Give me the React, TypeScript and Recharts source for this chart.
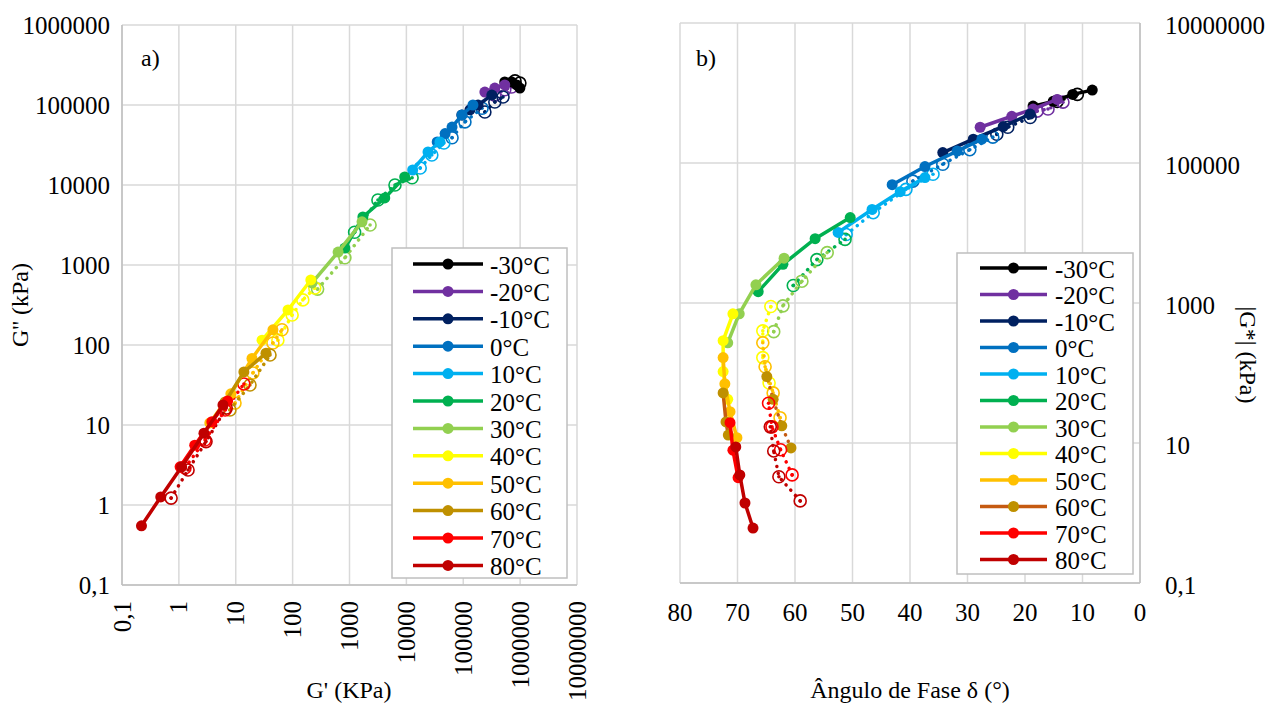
import React from 'react';
import { ScatterChart, Scatter, XAxis, YAxis, CartesianGrid } from 'recharts';

const temps = ['-30°C', '-20°C', '-10°C', '0°C', '10°C', '20°C', '30°C', '40°C', '50°C', '60°C', '70°C', '80°C'];
const colors = ['#000000', '#7030A0', '#002060', '#0070C0', '#00B0F0', '#00B050', '#92D050', '#FFFF00', '#FFC000', '#BF9000', '#FF0000', '#C00000'];
const bLineColors = ['#000000', '#7030A0', '#002060', '#0070C0', '#00B0F0', '#00B050', '#92D050', '#FFFF00', '#FFC000', '#C55A11', '#FF0000', '#C00000'];

const aTicksX = [0.1, 1, 10, 100, 1000, 10000, 100000, 1000000, 10000000];
const aTicksY = [0.1, 1, 10, 100, 1000, 10000, 100000, 1000000];
const bTicksX = [0, 10, 20, 30, 40, 50, 60, 70, 80];
const bTicksY = [0.1, 10, 1000, 100000, 10000000];

// panel a: [G', G''] per temperature, solid = filled markers, dotted = open markers
const aSolid: number[][][] = [
  [[537000, 194000], [710000, 194000], [870000, 178000], [990000, 163000]],
  [[240000, 145000], [359000, 163000], [537000, 178000]],
  [[94400, 75000], [131000, 87000], [182000, 100000], [318000, 133000]],
  [[34800, 34500], [48000, 44000], [63500, 53000], [95000, 75000], [148000, 100000]],
  [[12900, 15400], [24000, 25900], [38900, 34500]],
  [[830, 1630], [1720, 3980], [4170, 6900], [9350, 12600]],
  [[219, 596], [630, 1450], [1660, 3460]],
  [[29, 115], [83, 274], [209, 650]],
  [[3.5, 10.6], [8.2, 24.5], [19.3, 68], [45, 155]],
  [[6.5, 19.4], [13.9, 46], [34, 79]],
  [[1.05, 3.0], [1.9, 5.6], [3.8, 11], [7.2, 20]],
  [[0.22, 0.55], [0.48, 1.26], [1.12, 3.0], [2.76, 7.9], [5.96, 17.8]],
];
const aDotted: number[][][] = [
  [[813000, 200000], [990000, 188000]],
  [[359000, 133000], [537000, 155000], [710000, 168000]],
  [[240000, 81800], [359000, 109000], [500000, 126000]],
  [[63500, 39000], [107000, 61500], [214000, 91000]],
  [[17500, 16300], [28000, 23700], [45700, 33500]],
  [[1230, 2570], [3160, 6500], [6300, 10000], [12600, 12300]],
  [[275, 500], [830, 1230], [2300, 3160]],
  [[55, 115], [98, 237], [151, 366], [245, 516]],
  [[9.7, 18.8], [20, 44.7], [45, 106], [65, 155]],
  [[7.9, 15.4], [17.8, 31.6], [40, 75]],
  [[1.28, 2.9], [2.88, 6.5], [6.5, 15.4], [13.9, 32.6]],
  [[0.73, 1.22], [1.45, 2.74], [3.0, 6.2], [6.8, 16.3]],
];

// panel b: [phase angle, |G*|]
const bSolid: number[][][] = [
  [[18.6, 650000], [15.1, 760000], [11.7, 955000], [8.3, 1100000]],
  [[27.8, 324000], [22.3, 465000], [18.6, 590000], [14.4, 810000]],
  [[34.3, 141000], [29.0, 219000], [23.8, 331000], [19.1, 500000]],
  [[43.1, 49000], [37.4, 89000], [31.8, 148000], [27.5, 219000]],
  [[52.5, 10200], [46.6, 21700], [41.7, 39000], [37.4, 62000]],
  [[66.4, 1450], [62.1, 3570], [56.5, 8300], [50.4, 16600]],
  [[71.7, 270], [69.7, 700], [66.8, 1820], [61.9, 4370]],
  [[71.7, 42], [72.5, 105], [72.5, 290], [70.8, 700]],
  [[70.1, 11.9], [71.3, 28], [72.2, 70], [72.5, 166]],
  [[71.6, 13], [72.0, 20], [72.5, 52]],
  [[69.9, 3.2], [70.8, 7.9], [71.3, 19.5]],
  [[67.3, 0.61], [68.7, 1.39], [69.6, 3.5], [70.3, 8.8]],
];
const bDotted: number[][][] = [
  [[14.4, 760000], [10.9, 955000]],
  [[17.9, 550000], [16.0, 590000], [13.4, 740000]],
  [[24.9, 257000], [23.0, 324000], [19.1, 447000]],
  [[39.5, 55000], [34.3, 96000], [29.6, 155000], [25.6, 234000]],
  [[51.1, 9500], [46.4, 19500], [40.7, 42000], [36.0, 69000]],
  [[60.3, 1780], [56.2, 4170], [51.3, 8100]],
  [[63.7, 390], [62.1, 910], [58.8, 2050], [54.4, 5250]],
  [[64.5, 72], [65.6, 166], [65.6, 400], [64.2, 890]],
  [[62.6, 23], [63.8, 52], [65.2, 123], [65.6, 270]],
  [[60.7, 8.5], [62.3, 17.6], [63.8, 42], [64.9, 89]],
  [[60.5, 3.5], [62.5, 8], [64.0, 17], [64.6, 37]],
  [[59.1, 1.49], [62.8, 3.3], [63.7, 7.7], [64.3, 17]],
];

const FONT = "'Times New Roman', Times, 'Liberation Serif', 'DejaVu Serif', serif";
const GRID = '#d9d9d9';
const AXIS = '#bfbfbf';
const txt = { fontFamily: FONT };

const fmt = (v: number) => (v < 1 ? '0,1' : String(v));
const toPts = (arr: number[][]) => arr.map(([x, y]) => ({ x, y }));

const filled = (color: string) => (p: any) => <circle cx={p.cx} cy={p.cy} r={5.5} fill={color} />;
const open = (color: string) => (p: any) => (
  <g>
    <circle cx={p.cx} cy={p.cy} r={6} fill="none" stroke={color} strokeWidth={1.6} />
    <circle cx={p.cx} cy={p.cy} r={1.8} fill={color} />
  </g>
);

const TickAX = ({ x, y, payload }: any) => (
  <text x={x} y={y + 16} transform={`rotate(-90 ${x} ${y + 16})`} textAnchor="end" dominantBaseline="central"
    fontSize={25} fontFamily={FONT} style={txt} fill="#000">{fmt(payload.value)}</text>
);
const TickAY = ({ x, y, payload }: any) => (
  <text x={x - 12} y={y} textAnchor="end" dominantBaseline="central" fontSize={25} fontFamily={FONT} style={txt} fill="#000">
    {fmt(payload.value)}
  </text>
);
const TickBX = ({ x, y, payload }: any) => (
  <text x={x} y={y + 29} textAnchor="middle" dominantBaseline="central" fontSize={25} fontFamily={FONT} style={txt} fill="#000">
    {payload.value}
  </text>
);
const TickBY = ({ x, y, payload }: any) => (
  <text x={x + 25} y={y + 2} textAnchor="start" dominantBaseline="central" fontSize={25} fontFamily={FONT} style={txt} fill="#000">
    {fmt(payload.value)}
  </text>
);

const Legend = ({ x0, y0, w, h, top, step, lx1, lx2, tx, lineColors }: any) => (
  <g>
    <rect x={x0} y={y0} width={w} height={h} fill="#fff" stroke={AXIS} strokeWidth={1.5} />
    {temps.map((t, i) => {
      const y = top + i * step;
      return (
        <g key={t}>
          <line x1={lx1} x2={lx2} y1={y} y2={y} stroke={lineColors[i]} strokeWidth={3.5} />
          <circle cx={(lx1 + lx2) / 2} cy={y} r={5.5} fill={colors[i]} />
          <text x={tx} y={y + 1} dominantBaseline="central" fontSize={25} fontFamily={FONT} style={txt} fill="#000">{t}</text>
        </g>
      );
    })}
  </g>
);

export default function App() {
  return (
    <div style={{ position: 'absolute', left: 0, top: 0, width: 1271, height: 706, overflow: 'hidden', background: '#fff', fontFamily: FONT }}>
      <div style={{ position: 'absolute', left: 0, top: 0 }}>
        <ScatterChart width={640} height={706} margin={{ top: 25, right: 63, bottom: 0, left: 0 }}>
          <CartesianGrid stroke={GRID} strokeWidth={1.5} />
          <XAxis type="number" dataKey="x" scale="log" domain={[0.1, 10000000]} ticks={aTicksX} allowDataOverflow
            interval={0} height={121} tickSize={0} tickMargin={0} tick={<TickAX />} stroke={AXIS} strokeWidth={1.5} />
          <YAxis type="number" dataKey="y" scale="log" domain={[0.1, 1000000]} ticks={aTicksY} allowDataOverflow
            interval={0} width={122} tickSize={0} tickMargin={0} tick={<TickAY />} stroke={AXIS} strokeWidth={1.5} />
          {aDotted.map((d, i) => (
            <Scatter key={'ad' + i} data={toPts(d)} fill={colors[i]} isAnimationActive={false}
              line={{ stroke: colors[i], strokeWidth: 3.5, strokeDasharray: '0.1 7', strokeLinecap: 'round' }}
              shape={open(colors[i])} />
          ))}
          {aSolid.map((d, i) => (
            <Scatter key={'as' + i} data={toPts(d)} fill={colors[i]} isAnimationActive={false}
              line={{ stroke: colors[i], strokeWidth: 3.5 }} shape={filled(colors[i])} />
          ))}
        </ScatterChart>
      </div>
      <div style={{ position: 'absolute', left: 640, top: 0 }}>
        <ScatterChart width={631} height={706} margin={{ top: 23, right: 0, bottom: 0, left: 40 }}>
          <CartesianGrid stroke={GRID} strokeWidth={1.5} />
          <XAxis type="number" dataKey="x" domain={[0, 80]} reversed ticks={bTicksX} interval={0} height={123}
            tickSize={0} tickMargin={0} tick={<TickBX />} stroke={AXIS} strokeWidth={1.5} />
          <YAxis type="number" dataKey="y" orientation="right" scale="log" domain={[0.1, 10000000]} ticks={bTicksY}
            allowDataOverflow interval={0} width={131} tickSize={0} tickMargin={0} tick={<TickBY />} stroke={AXIS} strokeWidth={1.5} />
          {bDotted.map((d, i) => (
            <Scatter key={'bd' + i} data={toPts(d)} fill={colors[i]} isAnimationActive={false}
              line={{ stroke: bLineColors[i], strokeWidth: 3.5, strokeDasharray: '0.1 7', strokeLinecap: 'round' }}
              shape={i === 9 ? filled(colors[i]) : open(colors[i])} />
          ))}
          {bSolid.map((d, i) => (
            <Scatter key={'bs' + i} data={toPts(d)} fill={colors[i]} isAnimationActive={false}
              line={{ stroke: bLineColors[i], strokeWidth: 3.5 }} shape={filled(colors[i])} />
          ))}
        </ScatterChart>
      </div>
      <svg width={1271} height={706} style={{ position: 'absolute', left: 0, top: 0, pointerEvents: 'none' }}>
        <text x={141} y={58} dominantBaseline="central" fontSize={24} fontFamily={FONT} style={txt}>a)</text>
        <text x={696} y={58} dominantBaseline="central" fontSize={24} fontFamily={FONT} style={txt}>b)</text>
        <text x={20} y={305} transform="rotate(-90 20 305)" textAnchor="middle" dominantBaseline="central"
          fontSize={24} fontFamily={FONT} style={txt}>G'' (kPa)</text>
        <text x={349} y={690} textAnchor="middle" dominantBaseline="central" fontSize={24} fontFamily={FONT} style={txt}>G' (KPa)</text>
        <text x={910} y={690} textAnchor="middle" dominantBaseline="central" fontSize={24} fontFamily={FONT} style={txt}>Ângulo de Fase δ (°)</text>
        <text x={1248} y={355} transform="rotate(90 1248 355)" textAnchor="middle" dominantBaseline="central"
          fontSize={24} fontFamily={FONT} style={txt}>|G*| (kPa)</text>
        <Legend x0={392} y0={248} w={175} h={330} top={264} step={27.4} lx1={413} lx2={483} tx={490} lineColors={colors} />
        <Legend x0={957} y0={253} w={176} h={321} top={268} step={26.5} lx1={980} lx2={1047} tx={1055} lineColors={bLineColors} />
      </svg>
    </div>
  );
}
